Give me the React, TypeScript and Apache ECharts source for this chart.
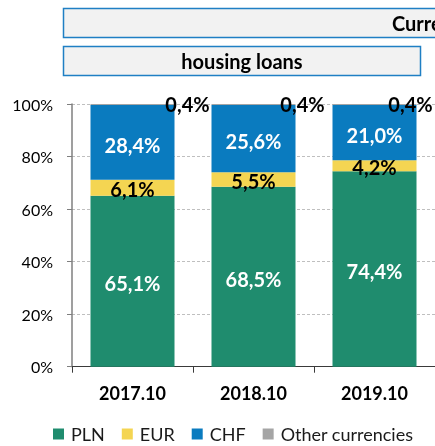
import React, { useEffect, useRef } from "react";
import * as echarts from "echarts";

const categories = ["2017.10", "2018.10", "2019.10"];
const plnValues = [65.1, 68.5, 74.4];
const eurValues = [6.1, 5.5, 4.2];
const chfValues = [28.4, 25.6, 21.0];
const otherValues = [0.4, 0.4, 0.4];
const seriesNames = ["PLN", "EUR", "CHF", "Other currencies"];
const yTicks = [0, 20, 40, 60, 80, 100];

const otherLabelShiftX = [55, 49, 36];

const FONT = "Lato, 'Noto Sans', sans-serif";
const fmt = (v: number) => v.toFixed(1).replace(".", ",") + "%";

export default function App() {
  const ref = useRef<HTMLDivElement>(null);
  useEffect(() => {
    if (!ref.current) return;
    const chart = echarts.init(ref.current, undefined, { renderer: "svg" });
    const labelBase = {
      show: true,
      fontFamily: FONT,
      fontWeight: "bold" as const,
      fontSize: 20,
      formatter: (p: any) => fmt(p.value),
    };
    chart.setOption({
      animation: false,
      textStyle: { fontFamily: FONT },
      grid: { left: 72, top: 104, width: 368, height: 262.7, containLabel: false },
      graphic: [
        {
          type: "rect",
          shape: { x: 63.5, y: 8.5, width: 420, height: 29 },
          style: { fill: "#f2f2f2", stroke: "#1f7fc4", lineWidth: 1.5 },
        },
        {
          type: "text",
          x: 392,
          y: 23,
          style: {
            text: "Currency structure",
            fontFamily: FONT,
            fontWeight: "bold",
            fontSize: 20,
            fill: "#000",
            textAlign: "left",
            textVerticalAlign: "middle",
          },
        },
        {
          type: "rect",
          shape: { x: 63.5, y: 46.5, width: 357, height: 29 },
          style: { fill: "#f2f2f2", stroke: "#1f7fc4", lineWidth: 1.5 },
        },
        {
          type: "text",
          x: 242,
          y: 61,
          style: {
            text: "housing loans",
            fontFamily: FONT,
            fontWeight: "bold",
            fontSize: 20,
            fill: "#000",
            textAlign: "center",
            textVerticalAlign: "middle",
          },
        },
      ],
      legend: {
        left: 53,
        top: 424,
        padding: 0,
        icon: "rect",
        itemWidth: 11,
        itemHeight: 11,
        itemGap: 17,
        data: seriesNames,
        textStyle: {
          fontFamily: FONT,
          fontSize: 18,
          lineHeight: 20,
          color: "#1a1a1a",
          padding: [0, 0, 0, 2],
        },
      },
      xAxis: {
        type: "category",
        data: categories,
        axisLine: { show: true, lineStyle: { color: "#3a3a3a", width: 1 } },
        axisTick: { show: true, length: 6, lineStyle: { color: "#3a3a3a" } },
        axisLabel: {
          margin: 17,
          fontFamily: FONT,
          fontWeight: "bold",
          fontSize: 18,
          color: "#000",
        },
      },
      yAxis: {
        type: "value",
        min: 0,
        max: 100,
        interval: 20,
        axisLine: { show: true, lineStyle: { color: "#7f7f7f", width: 1.5 } },
        axisTick: { show: true, length: 5, lineStyle: { color: "#7f7f7f" } },
        splitLine: { show: true, lineStyle: { color: "#bfbfbf", type: [3, 2] } },
        axisLabel: {
          margin: 19,
          fontFamily: FONT,
          fontSize: 16,
          color: "#000",
          formatter: (v: number) => (yTicks.includes(v) ? v + "%" : ""),
        },
      },
      series: [
        {
          name: "PLN",
          type: "bar",
          stack: "t",
          barWidth: 84,
          data: plnValues,
          itemStyle: { color: "#1f8c6e" },
          label: { ...labelBase, position: "inside", color: "#fff", offset: [0, 2] },
        },
        {
          name: "EUR",
          type: "bar",
          stack: "t",
          data: eurValues,
          itemStyle: { color: "#f4d552" },
          label: { ...labelBase, position: "inside", color: "#000", offset: [0, 1] },
        },
        {
          name: "CHF",
          type: "bar",
          stack: "t",
          data: chfValues,
          itemStyle: { color: "#0a7bbf" },
          label: { ...labelBase, position: "inside", color: "#fff", offset: [0, 2.5] },
        },
        {
          name: "Other currencies",
          type: "bar",
          stack: "t",
          data: otherValues.map((v, i) => ({
            value: v,
            label: { offset: [otherLabelShiftX[i], -1] },
          })),
          itemStyle: { color: "#a5a5a5" },
          label: { ...labelBase, position: "inside", color: "#000" },
        },
      ],
    });
    return () => chart.dispose();
  }, []);
  return (
    <div
      ref={ref}
      style={{ position: "fixed", left: 0, top: 0, width: 435, height: 446 }}
    />
  );
}
